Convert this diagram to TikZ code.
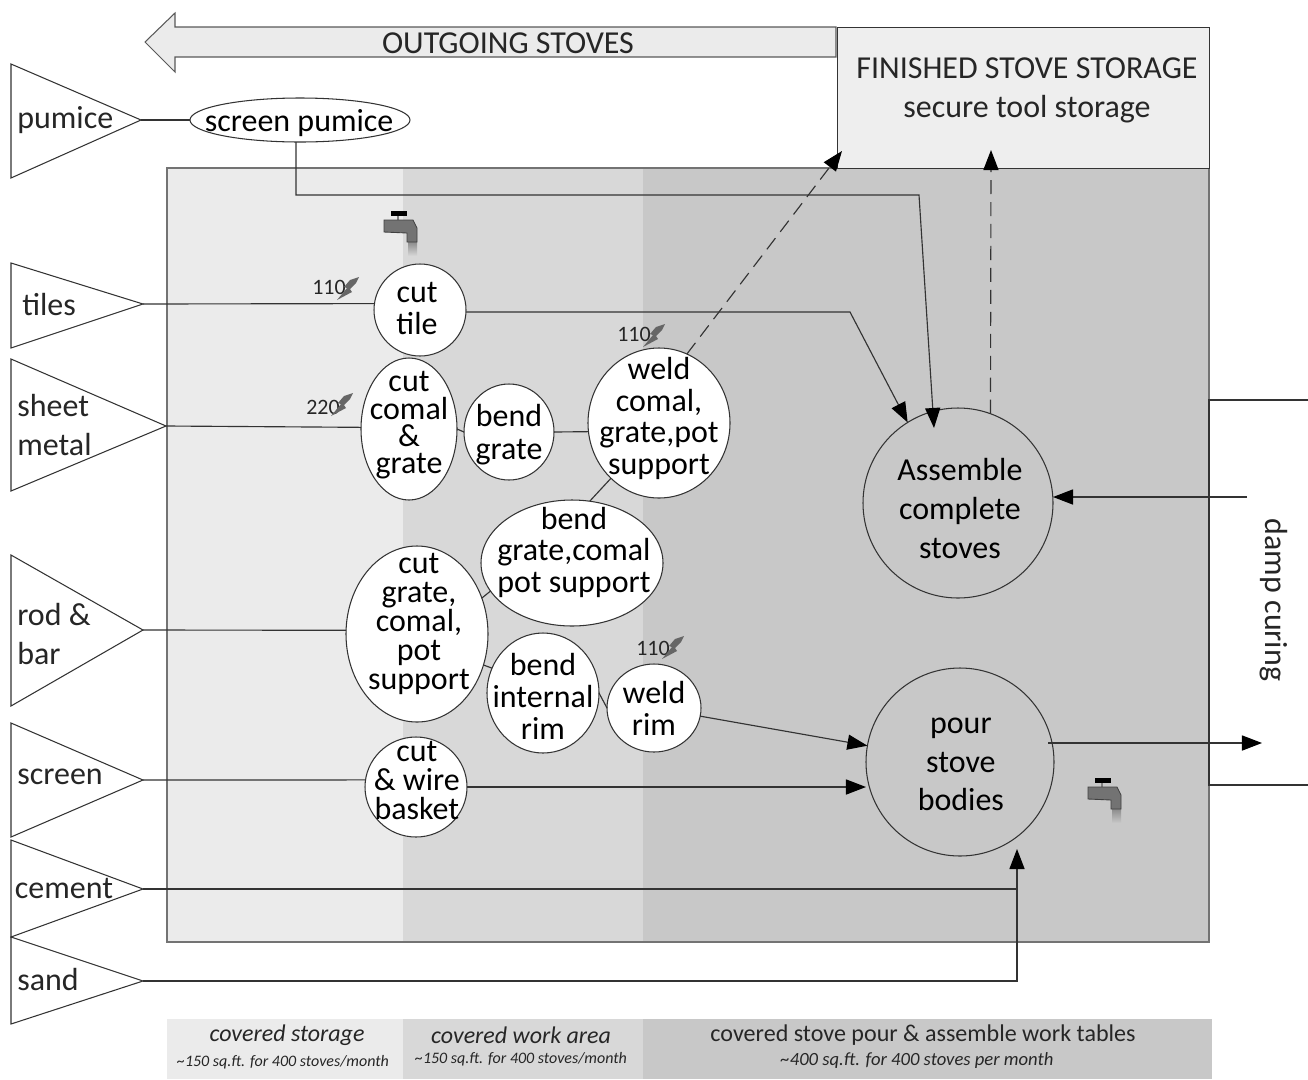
\documentclass[tikz,border=0pt]{standalone}
\usepackage{fontspec}
\setmainfont{Carlito}
\usetikzlibrary{shapes.geometric,arrows.meta}
\newcommand{\btxt}[4][0pt]{\makebox[0pt]{\hspace*{\dimexpr 2\dimexpr#2\relax\relax}\raisebox{\dimexpr-4.5pt+#1\relax}[0pt][0pt]{\parbox[c]{6cm}{\centering\fontsize{18.2}{#3}\selectfont\lineskiplimit=-30pt\relax #4}}}}
\definecolor{zoneA}{HTML}{EBEBEB}
\definecolor{zoneB}{HTML}{D8D8D8}
\definecolor{zoneC}{HTML}{C8C8C8}
\definecolor{inkline}{HTML}{333333}
\colorlet{dripc}{zoneB}
\tikzset{
  x=0.02cm,y=-0.02cm,
  ln/.style={draw=inkline,line width=0.65pt},
  hd/.style={-{Triangle[length=11.4pt,width=8.6pt,fill=black,color=black]}},
  arr/.style={ln,hd},
  dsh/.style={ln,dash pattern=on 8pt off 4.5pt,hd},
  tri/.style={draw=inkline,line width=0.6pt,fill=white},
  bub/.style={ellipse,draw=inkline,line width=0.6pt,fill=white,inner sep=0pt,outer sep=0pt},
  big/.style={bub,fill=none},
  tx/.style={inner sep=0pt,font=\fontsize{18.2}{22}\selectfont,align=left,text=black!85},
  small/.style={inner sep=0pt,font=\fontsize{12.5}{15}\selectfont,text=black!85},
  legA/.style={inner sep=0pt,font=\fontsize{13.65}{16}\selectfont\itshape,text=black!85},
  legB/.style={inner sep=0pt,font=\fontsize{9.1}{11}\selectfont\itshape,text=black!85},
  faucet/.pic={
    \fill[black] (7,1) rectangle (23,6);
    \draw[gray,line width=0.6pt] (14,6) -- (14,10);
    \fill[top color=black!45,bottom color=dripc,draw=none] (24,32) rectangle (33,46);
    \draw[fill=black!55,draw=black!75,line width=0.5pt] (0,10) -- (29,10) -- (33,18) -- (33,32) -- (23,32) -- (23,23) -- (0,22) -- cycle;
  },
  bolt/.pic={
    \fill[black!60] (11,-12) -- (2,-9) -- (-4,-2) -- (-1,-1) -- (-11,11) -- (4,3) -- (2,0) -- (8,-6) -- cycle;
  }
}
\begin{document}
\begin{tikzpicture}
\useasboundingbox (0,0) rectangle (1308,1079);
% zones
\fill[zoneA] (167,168) rectangle (403,942);
\fill[zoneB] (403,168) rectangle (643,942);
\fill[zoneC] (643,168) rectangle (1209,942);
\draw[draw=black!55,line width=0.9pt] (167,168) rectangle (1209,942);
% legend
\fill[zoneA] (167,1019) rectangle (403,1079);
\fill[zoneB] (403,1019) rectangle (643,1079);
\fill[zoneC] (643,1019) rectangle (1212,1079);
\node[legA] (l1) at (287,1035) {covered storage};
\node[legB] (l2) at (283,1062) {\textasciitilde150 sq.ft. for 400 stoves/month};
\node[legA] (l3) at (521,1035) {covered work area};
\node[legB] (l4) at (521,1059) {\textasciitilde150 sq.ft. for 400 stoves/month};
\node[inner sep=0pt,font=\fontsize{13.7}{16}\selectfont,text=black!85] (l5) at (923,1035) {covered stove pour \& assemble work tables};
\node[inner sep=0pt,font=\fontsize{10.6}{12}\selectfont\itshape,text=black!85] (l6) at (917,1061) {\textasciitilde400 sq.ft. for 400 stoves per month};
% storage and outgoing arrow
\node[draw=inkline,line width=0.6pt,fill=zoneA!85!white,minimum width=372*0.02cm,minimum height=141*0.02cm,inner sep=0pt,anchor=north west] (store) at (837,27) {};
\node[tx] (s1) at (1027,68) {FINISHED STOVE STORAGE};
\node[tx] (s2) at (1027,109) {secure tool storage};
\draw[draw=black!65,line width=0.6pt,fill=zoneA] (836,27) -- (175,27) -- (175,13) -- (145,42) -- (175,72) -- (175,57) -- (836,57) -- cycle;
\node[tx] (out) at (508,43) {OUTGOING STOVES};
% triangles
\draw[tri] (11,64) -- coordinate[pos=1] (tPum) (141,120) -- (11,178) -- cycle;
\draw[tri] (11,263) -- coordinate[pos=1] (tTil) (143,304) -- (11,348) -- cycle;
\draw[tri] (11,359) -- coordinate[pos=1] (tShe) (166,426) -- (11,491) -- cycle;
\draw[tri] (11,555) -- coordinate[pos=1] (tRod) (143,630) -- (11,706) -- cycle;
\draw[tri] (11,723) -- coordinate[pos=1] (tScr) (143,780) -- (11,837) -- cycle;
\draw[tri] (11,840) -- coordinate[pos=1] (tCem) (143,889) -- (11,937) -- cycle;
\draw[tri] (11,937) -- coordinate[pos=1] (tSan) (143,981) -- (11,1024) -- cycle;
\node[tx,anchor=west] (p1) at (17,120) {pumice};
\node[tx,anchor=west] (p2) at (22,305) {tiles};
\node[tx,anchor=west,font=\fontsize{18.2}{21.8}\selectfont] (p3) at (17,425) {sheet\\metal};
\node[tx,anchor=west,font=\fontsize{18.2}{22.2}\selectfont] (p4) at (17,634) {rod \&\\bar};
\node[tx,anchor=west] (p5) at (17,777) {screen};
\node[tx,anchor=west] (p6) at (14.5,888) {cement};
\node[tx,anchor=west] (p7) at (17,979) {sand};
% bubbles
\node[bub,minimum width=220*0.02cm,minimum height=44*0.02cm] (scr) at (300,120) {\btxt{-0.5pt}{20}{screen pumice}};
\node[bub,minimum width=92*0.02cm,minimum height=92*0.02cm] (ctile) at (420,310) {\btxt[3.1pt]{-1.7pt}{18.2}{cut\\tile}};
\node[bub,minimum width=96*0.02cm,minimum height=142*0.02cm] (ccom) at (409,429) {\btxt[4pt]{0pt}{15.6}{cut\\comal\\\&\\grate}};
\node[bub,minimum width=90*0.02cm,minimum height=96*0.02cm] (bgr) at (509,432) {\btxt[0.6pt]{0pt}{18.8}{bend\\grate}};
\node[bub,minimum width=142*0.02cm,minimum height=150*0.02cm] (weld) at (659,423) {\btxt[4.5pt]{0pt}{18}{weld\\comal,\\grate,pot\\support}};
\node[bub,minimum width=182*0.02cm,minimum height=126*0.02cm] (bgc) at (572,563) {\btxt[8pt]{1.1pt}{18.2}{bend\\grate,comal\\pot support}};
\node[bub,minimum width=142*0.02cm,minimum height=176*0.02cm] (cgr) at (417,634) {\btxt[7.7pt]{1.1pt}{16.4}{cut\\grate,\\comal,\\pot\\support}};
\node[bub,minimum width=112*0.02cm,minimum height=120*0.02cm] (bint) at (543,693) {\btxt{0pt}{18.2}{bend\\internal\\rim}};
\node[bub,minimum width=94*0.02cm,minimum height=88*0.02cm] (wrim) at (654,708) {\btxt[1.7pt]{0pt}{18.2}{weld\\rim}};
\node[bub,minimum width=102*0.02cm,minimum height=100*0.02cm] (cbas) at (416,787) {\btxt[5.7pt]{0.5pt}{16.3}{cut\\\& wire\\basket}};
\node[big,minimum width=190*0.02cm,minimum height=190*0.02cm] (asm) at (958,503) {\btxt[-1.1pt]{1.1pt}{22.2}{Assemble\\complete\\stoves}};
\node[big,minimum width=188*0.02cm,minimum height=188*0.02cm] (pour) at (960,762) {\btxt[0.6pt]{0.5pt}{22}{pour\\stove\\bodies}};
% connectors
\coordinate (cA) at (296,195);
\coordinate (cB) at (919,195);
\coordinate (cC) at (850,312);
\coordinate (cD) at (1017,889);
\coordinate (cE) at (1017,981);
\coordinate (cF) at (1017,849);
\coordinate (cG) at (934,428);
\coordinate (dTopL) at (1308,400);
\coordinate (dCorn1) at (1209,400);
\coordinate (dCorn2) at (1209,785);
\coordinate (dBotR) at (1308,785);
\coordinate (dIn) at (1247,497);
\coordinate (dOutS) at (1048,743);
\coordinate (dOut) at (1262,743);
\coordinate (dSt1) at (842,151);
\coordinate (dSt2) at (991,150);
\draw[ln] (tPum) -- (scr.west);
\draw[arr] (scr.south -| cA) -- (cA) -- (cB) -- (cG);
\draw[ln] (tTil) -- (ctile.172);
\draw[arr] (ctile.east |- 0,312) -- (cC) -- (asm.122);
\draw[ln] (tShe) -- (ccom.178);
\draw[ln] (ccom.east) -- (bgr.west);
\draw[ln] (bgr.east) -- (weld.187);
\draw[ln] (weld.229) -- (bgc.74);
\draw[ln] (cgr.29) -- (bgc.199);
\draw[ln] (cgr.-25) -- (bint.154);
\draw[ln] (bint.east) -- (wrim.west);
\draw[arr] (wrim.-10) -- (pour.170);
\draw[ln] (tRod) -- (cgr.177);
\draw[ln] (tScr) -- (cbas.172);
\draw[arr] (cbas.east) -- (pour.west |- cbas.east);
\draw[ln] (tCem) -- (cD);
\draw[arr] (tSan) -- (cE) -- (cF);
\draw[dsh] (weld.68) -- (dSt1);
\draw[dsh] (asm.70) -- (dSt2);
\draw[ln] (dTopL) -- (dCorn1) -- (dCorn2) -- (dBotR);
\draw[arr] (dIn) -- (asm.east |- dIn);
\draw[arr] (dOutS) -- (dOut);
\node[tx,rotate=-90] (damp) at (1274,600) {damp curing};
% utilities
\pic at (384,210) {faucet};
\colorlet{dripc}{zoneC}
\pic at (1088,777) {faucet};
\node[small] (v1) at (329,287) {110};
\pic at (348,289) {bolt};
\node[small] (v2) at (323,407) {220};
\pic at (342,405) {bolt};
\node[small] (v3) at (634,334) {110};
\pic at (654,336) {bolt};
\node[small] (v4) at (653,648) {110};
\pic at (673,648) {bolt};
\end{tikzpicture}
\end{document}
